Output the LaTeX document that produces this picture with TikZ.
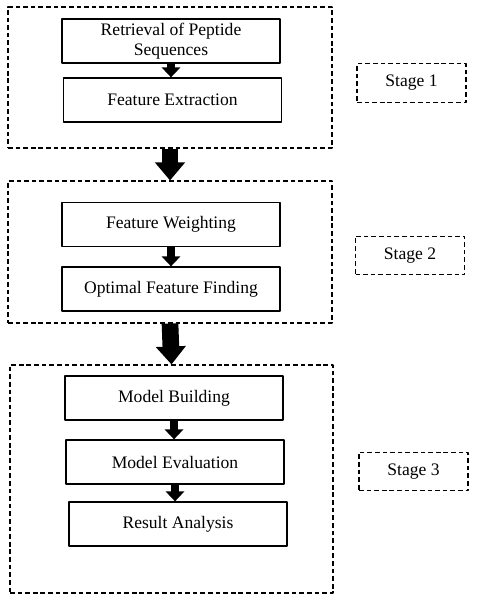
\documentclass[tikz,border=0pt]{standalone}
\usepackage{fontspec}
\setmainfont{Liberation Serif}
\usetikzlibrary{arrows.meta}
\begin{document}
\begin{tikzpicture}[x=0.03cm,y=-0.03cm,line join=round,font=\fontsize{15}{17}\selectfont,
	stepbox/.style={draw,line width=1.1pt,minimum width=6.54cm,minimum height=1.32cm,inner sep=0pt,align=center},
	stagebox/.style={draw,dashed,dash pattern=on 4pt off 2.5pt,line width=0.9pt,inner sep=0pt},
	labelbox/.style={stagebox,minimum width=3.27cm,minimum height=1.16cm},
	smallarr/.style={line width=0.25cm,-{Triangle[width=0.55cm,length=0.3cm]}},
	bigarr/.style={line width=0.5cm,-{Triangle[width=0.87cm,length=0.54cm]}}]
	\useasboundingbox (0,0) rectangle (476,600);
	% Khung các giai đoạn
	\node[stagebox,minimum width=9.72cm,minimum height=4.23cm] (s1) at (170,77.5) {};
	\node[stagebox,minimum width=9.72cm,minimum height=4.26cm] (s2) at (170,252) {};
	\node[stagebox,minimum width=9.69cm,minimum height=6.84cm] (s3) at (171.5,479) {};
	\node[labelbox] (lab1) at (411.5,83) {Stage 1};
	\node[labelbox] (lab2) at (410,255.5) {Stage 2};
	\node[labelbox] (lab3) at (413.5,471.5) {Stage 3};
	% Các bước
	\node[stepbox] (ret) at (171,41) {Retrieval of Peptide\\Sequences};
	\node[stepbox] (fext) at (172.5,100) {Feature Extraction};
	\node[stepbox] (fw) at (171,224.5) {Feature Weighting};
	\node[stepbox] (off) at (171,289) {Optimal Feature Finding};
	\node[stepbox] (mb) at (174,398) {Model Building};
	\node[stepbox] (me) at (175,462) {Model Evaluation};
	\node[stepbox] (ra) at (178,524) {Result Analysis};
	% Mũi tên
	\draw[smallarr] (ret.south) -- (ret.south |- fext.north);
	\draw[smallarr] (fw.south) -- (fw.south |- off.north);
	\draw[smallarr] (mb.south) -- (mb.south |- me.north);
	\draw[smallarr] (me.south) -- (me.south |- ra.north);
	\draw[bigarr] (s1.south) -- (s2.north);
	\draw[bigarr] (s2.south) -- (s3.north);
\end{tikzpicture}
\end{document}
